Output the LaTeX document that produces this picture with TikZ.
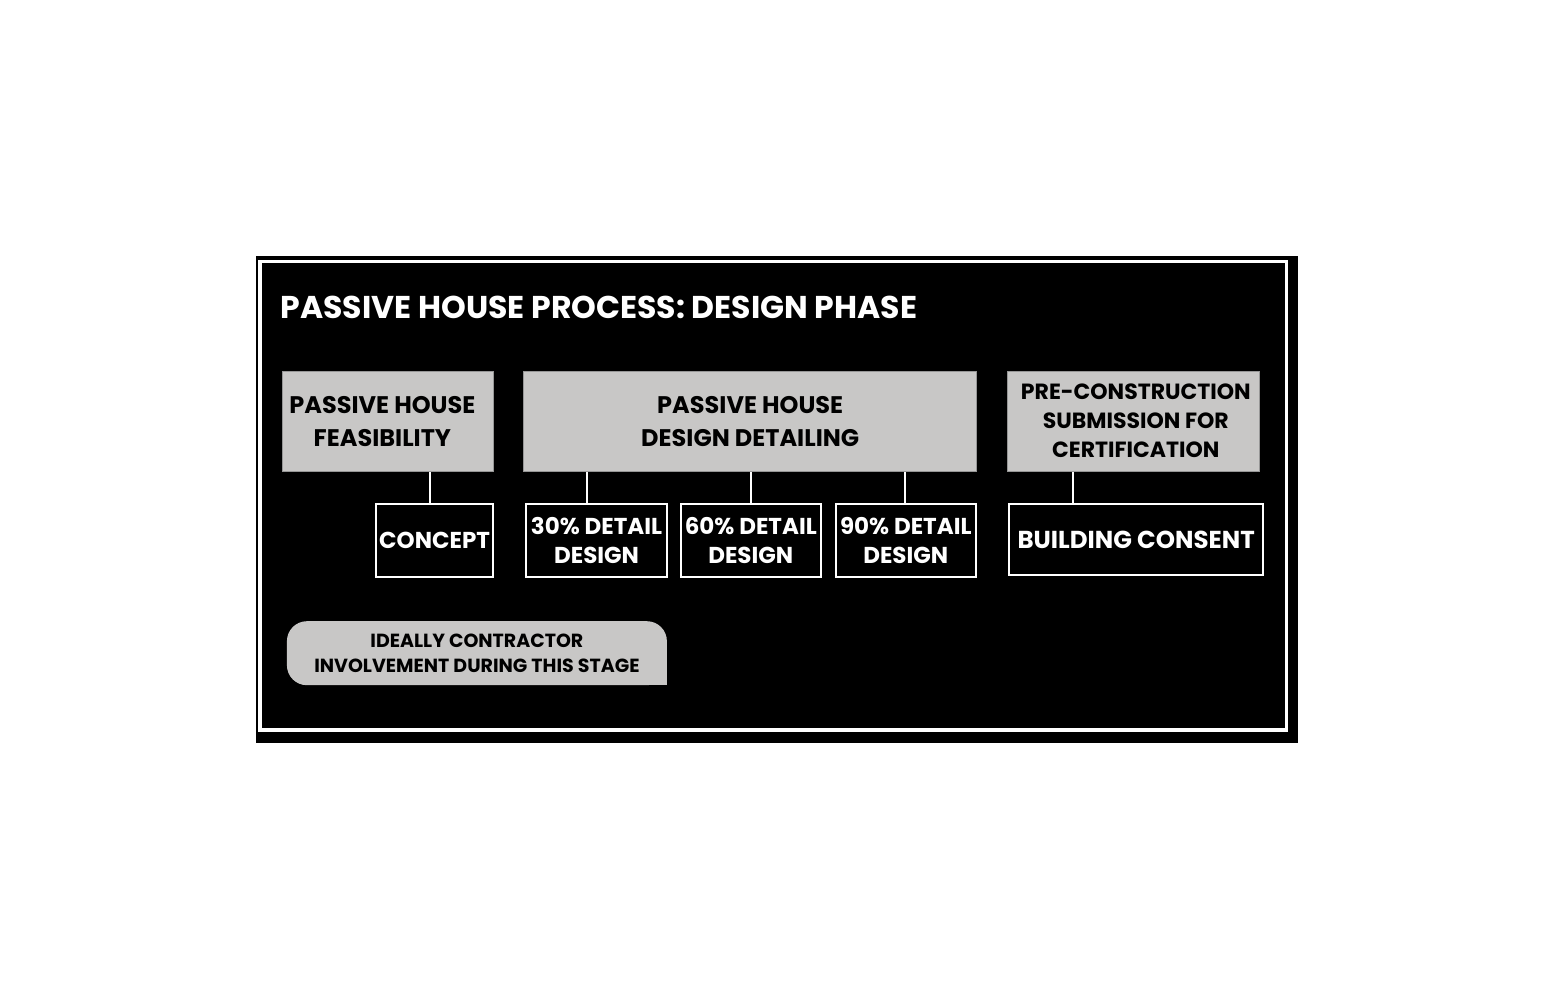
\documentclass[tikz,border=0pt]{standalone}
\usepackage{fontspec}
\setmainfont{Poppins}
\definecolor{boxgray}{RGB}{200,199,198}
\definecolor{boxedge}{RGB}{150,150,150}
\begin{document}
\begin{tikzpicture}[x=1pt,y=-1pt,
  graybox/.style={fill=boxgray, draw=boxedge, line width=0.8pt, inner sep=0pt,
    anchor=north west, align=center, text=black},
  darkbox/.style={fill=black, draw=white, line width=2pt, inner sep=0pt,
    anchor=north west, align=center, text=white},
  link/.style={draw=white, line width=2pt},
  big/.style={font=\fontsize{24}{33}\selectfont\bfseries},
  mid/.style={font=\fontsize{23}{28.5}\selectfont\bfseries},
  small/.style={font=\fontsize{22}{29}\selectfont\bfseries}]
\useasboundingbox (0,0) rectangle (1554,1000);
\fill[white] (0,0) rectangle (1554,1000);
% panel and inner frame
\fill[black] (256,256) rectangle (1298,743);
\draw[white, line width=3.5pt] (260,261.5) rectangle (1286.5,730);
% title
\node[anchor=base west, inner sep=0pt, text=white, font=\fontsize{31.5}{40}\selectfont\bfseries]
  (title) at (280.5,318) {PASSIVE HOUSE PROCESS: DESIGN PHASE};
% top row
\node[graybox, big, minimum width=211pt, minimum height=100pt] (feas) at (282,370.7)
  {PASSIVE HOUSE\hspace*{11pt}\\FEASIBILITY\hspace*{11pt}};
\node[graybox, big, minimum width=453pt, minimum height=100pt] (detail) at (523.3,370.7)
  {PASSIVE HOUSE\\DESIGN DETAILING};
\node[graybox, small, minimum width=252.5pt, minimum height=100pt] (precon) at (1006.7,370.7)
  {\hspace*{5pt}PRE-CONSTRUCTION\\\hspace*{5pt}SUBMISSION FOR\\\hspace*{5pt}CERTIFICATION};
% bottom row
\node[darkbox, mid, minimum width=116.5pt, minimum height=73pt] (concept) at (375.3,503.3)
  {CONCEPT};
\node[darkbox, mid, minimum width=140.5pt, minimum height=73pt] (d30) at (525.3,503)
  {30\% DETAIL\\DESIGN};
\node[darkbox, mid, minimum width=140.5pt, minimum height=73pt] (d60) at (679.5,503)
  {60\% DETAIL\\DESIGN};
\node[darkbox, mid, minimum width=140.5pt, minimum height=73pt] (d90) at (834.5,503)
  {90\% DETAIL\\DESIGN};
\node[darkbox, font=\fontsize{24.5}{33}\selectfont\bfseries, minimum width=253.7pt,
  minimum height=70.7pt] (consent) at (1008.3,503.3) {BUILDING CONSENT};
% connectors
\draw[link] ([xshift=-5pt]concept.north) -- ([xshift=-5pt]concept.north |- feas.south);
\draw[link] ([xshift=-10pt]d30.north) -- ([xshift=-10pt]d30.north |- detail.south);
\draw[link] (d60.north) -- (d60.north |- detail.south);
\draw[link] ([xshift=-1pt]d90.north) -- ([xshift=-1pt]d90.north |- detail.south);
\draw[link] ([xshift=-63.5pt]consent.north) -- ([xshift=-63.5pt]consent.north |- precon.south);
% note tab
\node[fill=boxgray, rounded corners=20pt, inner sep=0pt, anchor=north west,
  minimum width=380pt, minimum height=64pt, align=center,
  font=\fontsize{19}{25}\selectfont\bfseries] (note) at (286.7,621)
  {IDEALLY CONTRACTOR\\INVOLVEMENT DURING THIS STAGE};
\fill[boxgray] (note.south east) rectangle ++(-20,-20);
\end{tikzpicture}
\end{document}
